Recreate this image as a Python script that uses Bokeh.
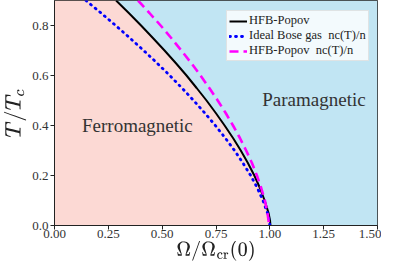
from bokeh.plotting import figure
from bokeh.models import Legend, LegendItem, Label, FixedTicker, NumeralTickFormatter
from bokeh.embed import file_html
from bokeh.resources import INLINE

# Temperature grid (T/Tc) and phase boundaries (Omega/Omega_cr(0))
T_vals = [0.9, 0.85, 0.8, 0.75, 0.7, 0.65, 0.6, 0.55, 0.5, 0.45, 0.4, 0.35,
          0.3, 0.25, 0.2, 0.15, 0.1, 0.05, 0.02, 0.0]
hfb_popov = [0.286, 0.345, 0.402, 0.457, 0.511, 0.563, 0.613, 0.660, 0.706, 0.749,
             0.790, 0.829, 0.865, 0.898, 0.928, 0.954, 0.976, 0.994, 1.001, 1.003]
ideal_bose = [0.146, 0.216, 0.284, 0.350, 0.414, 0.476, 0.535, 0.592, 0.646, 0.698,
              0.747, 0.793, 0.836, 0.875, 0.911, 0.942, 0.968, 0.989, 0.997, 1.0]
hfb_nc = [0.388, 0.441, 0.493, 0.542, 0.589, 0.635, 0.678, 0.719, 0.758, 0.795,
          0.829, 0.861, 0.890, 0.917, 0.940, 0.960, 0.977, 0.989, 0.994, 0.995]

x_ticks = [0.0, 0.25, 0.5, 0.75, 1.0, 1.25, 1.5]
y_ticks = [0.0, 0.2, 0.4, 0.6, 0.8]
x_max = 1.5
y_max = 0.9

SERIF = "Liberation Serif"

p = figure(width=381, height=263, output_backend="svg", toolbar_location=None,
           x_range=(0, x_max), y_range=(0, y_max),
           min_border_left=40, min_border_right=4, min_border_top=0, min_border_bottom=20)

p.background_fill_color = "white"
p.border_fill_color = "white"
p.outline_line_color = "#222222"
p.outline_line_width = 1
p.grid.visible = False

# Phase regions
p.harea(y=T_vals, x1=[0.0] * len(T_vals), x2=hfb_popov, fill_color="#fcd9d4", fill_alpha=1.0)
p.harea(y=T_vals, x1=hfb_popov, x2=[x_max] * len(T_vals), fill_color="#c1e5f3", fill_alpha=1.0)

r1 = p.line(hfb_popov, T_vals, line_color="black", line_width=2)
r2 = p.line(ideal_bose, T_vals, line_color="#0000ff", line_width=2.8, line_dash="1 5",
            line_cap="round")
r3 = p.line(hfb_nc, T_vals, line_color="#ff00ff", line_width=2.6, line_dash="9 5")

# Axes
for ax in (p.xaxis[0], p.yaxis[0]):
    ax.major_label_text_font = SERIF
    ax.major_label_text_font_size = "13px"
    ax.major_label_text_color = "#333333"
    ax.axis_line_color = "#222222"
    ax.major_tick_line_color = "#222222"
    ax.major_tick_out = 4
    ax.major_tick_in = 0
    ax.minor_tick_line_color = None
    ax.axis_label_text_font_size = "17px"
    ax.axis_label_text_font_style = "normal"
    ax.axis_label_text_color = "#222222"

p.yaxis.axis_label_text_font_size = "18px"
p.xaxis.ticker = FixedTicker(ticks=x_ticks)
p.yaxis.ticker = FixedTicker(ticks=y_ticks)
p.xaxis.formatter = NumeralTickFormatter(format="0.00")
p.yaxis.formatter = NumeralTickFormatter(format="0.0")
p.xaxis.major_label_standoff = 0
p.yaxis.major_label_standoff = 2
p.xaxis.axis_label = r"$$\Omega/\Omega_{\rm cr}(0)$$"
p.yaxis.axis_label = r"$$T/T_c$$"
p.xaxis.axis_label_standoff = 0
p.yaxis.axis_label_standoff = 3

# Region labels
p.add_layout(Label(x=0.385, y=0.40, text="Ferromagnetic", text_font=SERIF,
                   text_font_size="19px", text_color="#333333",
                   text_align="center", text_baseline="middle"))
p.add_layout(Label(x=1.205, y=0.505, text="Paramagnetic", text_font=SERIF,
                   text_font_size="19px", text_color="#333333",
                   text_align="center", text_baseline="middle"))

legend = Legend(items=[
    LegendItem(label="HFB-Popov", renderers=[r1]),
    LegendItem(label="Ideal Bose gas  nc(T)/n", renderers=[r2]),
    LegendItem(label="HFB-Popov  nc(T)/n", renderers=[r3]),
], location=(172, 164))
legend.label_text_font = SERIF
legend.label_text_font_size = "12.5px"
legend.label_text_color = "#222222"
legend.glyph_width = 18
legend.glyph_height = 14
legend.label_height = 14
legend.label_standoff = 2
legend.spacing = 0
legend.padding = 2
legend.margin = 0
legend.background_fill_color = "white"
legend.background_fill_alpha = 0.8
legend.border_line_color = "#cccccc"
legend.border_line_width = 1
p.add_layout(legend)

open("out.html", "w").write(file_html(p, INLINE))
